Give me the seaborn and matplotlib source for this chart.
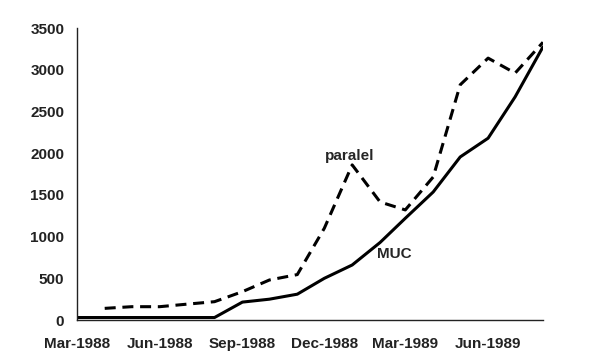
import pandas as pd
import numpy as np
import matplotlib
matplotlib.use('Agg')
import matplotlib.pyplot as plt
import matplotlib.dates as mdates
import seaborn as sns

# dados mensais (Mar-1988 a Aug-1989)
meses = pd.date_range('1988-03-01', '1989-08-01', freq='MS')
muc = [30, 30, 30, 30, 30, 30, 215, 250, 310, 500, 660, 930,
       1220, 1535, 1955, 2180, 2675, 3275]
paralel = [np.nan, 140, 160, 160, 190, 220, 340, 480, 545, 1100, 1860, 1415,
           1320, 1715, 2820, 3140, 2960, 3330]
ticks_y = [0, 500, 1000, 1500, 2000, 2500, 3000, 3500]

df = pd.DataFrame({'mes': meses, 'MUC': muc, 'paralel': paralel})

sns.set_style('white')
plt.rcParams['font.family'] = ['Liberation Sans', 'DejaVu Sans']

fig = plt.figure(figsize=(6, 3.6), dpi=100)
ax = fig.add_axes([0.128, 0.111, 0.777, 0.811])

sns.lineplot(data=df, x='mes', y='MUC', color='black', linewidth=2.2, ax=ax)
sns.lineplot(data=df, x='mes', y='paralel', color='black', linewidth=2.2,
             ax=ax)
ax.lines[1].set_dashes([3.6, 2.2])

ax.set_xlim(meses[0], meses[-1])
ax.set_ylim(0, 3500)
ax.set_yticks(ticks_y)
ax.xaxis.set_major_locator(mdates.MonthLocator(bymonth=[3, 6, 9, 12]))
ax.xaxis.set_major_formatter(mdates.DateFormatter('%b-%Y'))

ax.set_xlabel('')
ax.set_ylabel('')
sns.despine(ax=ax)
for s in ['left', 'bottom']:
    ax.spines[s].set_color('#222222')
    ax.spines[s].set_linewidth(1.0)
ax.tick_params(axis='both', direction='out', length=4, width=1,
               color='#222222', labelsize=11, pad=5)
ax.tick_params(axis='x', pad=8)
for lbl in ax.get_xticklabels() + ax.get_yticklabels():
    lbl.set_fontweight('bold')
    lbl.set_color('#222222')

ax.text(pd.Timestamp('1988-12-29'), 1880, 'paralel', fontsize=11,
        fontweight='bold', ha='center', va='bottom')
ax.text(pd.Timestamp('1989-02-17'), 790, 'MUC', fontsize=11,
        fontweight='bold', ha='center', va='center')

fig.savefig('out.png', dpi=100)
